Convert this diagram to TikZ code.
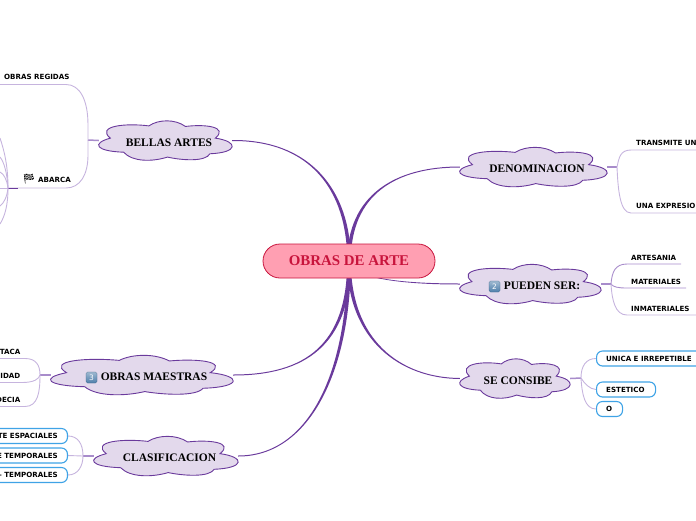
\documentclass[tikz,border=0pt]{standalone}
\usepackage{fontspec}
\setmainfont{Liberation Serif}
\setsansfont{DejaVu Sans}
\newfontfamily\emojifont{Noto Emoji}
\usetikzlibrary{calc,shapes.misc}
\pgfdeclarelayer{conn}\pgfdeclarelayer{cloudl}
\pgfsetlayers{conn,cloudl,main}
\definecolor{mainp}{HTML}{6A3A9C}
\definecolor{lightp}{HTML}{C6B4DE}
\definecolor{midp}{HTML}{A88CCB}
\definecolor{cloudf}{HTML}{E3D9EC}
\definecolor{boxb}{HTML}{3FA3E6}
\definecolor{rootf}{HTML}{FF9FB2}
\definecolor{rootb}{HTML}{C8143C}
\definecolor{keyb}{HTML}{4F7FAB}
\tikzset{
 x=1pt,y=-1pt,
 root/.style={rounded rectangle,draw=rootb,fill=rootf,line width=.8pt,minimum width=172pt,minimum height=34pt,inner sep=0pt,text=rootb,font=\bfseries\fontsize{14.9}{16}\selectfont},
 cloudtxt/.style={inner sep=0pt,font=\bfseries\fontsize{11.5}{14}\selectfont,text=black,text height=11pt,text depth=0pt},
 lbl/.style={inner sep=0pt,font=\sffamily\bfseries\fontsize{7.1}{8}\selectfont,text=black},
 bluebox/.style={rounded corners=6pt,draw=boxb,fill=white,line width=1.1pt,inner sep=0pt},
 keycap/.style={rounded corners=1.5pt,top color=keyb!55!white,bottom color=keyb,draw=keyb!80!black,line width=.3pt,text=white,font=\sffamily\fontsize{7.5}{8}\selectfont,minimum size=11pt,inner sep=0pt},
 thin/.style={draw=lightp,line width=.9pt},
 midl/.style={draw=midp,line width=.9pt},
 stub/.style={draw=midp,line width=1.5pt},
}
\newcommand{\cloudnode}[7]{% name,cx,cy,hw,hh,shift,text
 \node[cloudtxt,minimum width=2*#4pt,minimum height=2*#5pt] (#1) at (#2,#3) {\hspace*{#6pt}#7};
 \begin{pgfonlayer}{cloudl}
 \begin{scope}[shift={(#2,#3)},x=#4pt,y=-#5pt]
 \draw[draw=mainp,fill=cloudf,line width=.9pt]
  (-.83,-.12) .. controls (-1.12,.15) and (-1.05,.55) .. (-.63,.6)
  .. controls (-.5,1.1) and (-.2,1.1) .. (.03,.85)
  .. controls (.25,1.02) and (.6,1.1) .. (.67,.68)
  .. controls (1.1,.62) and (1.1,.05) .. (.75,-.12)
  .. controls (.95,-.7) and (.6,-.85) .. (.3,-.72)
  .. controls (.15,-1.1) and (-.1,-1.1) .. (-.25,-.75)
  .. controls (-.6,-.9) and (-1.05,-.75) .. (-.83,-.12) -- cycle;
 \end{scope}
 \end{pgfonlayer}}
% tapered main branch: anchor, c1, c2, side
\newcommand{\taper}[4]{%
 \fill[mainp] ($(#1)+(0,-.5)$) .. controls ($(#2)+(0,-.5)$) and ($(#3)+(#4,0)$) .. ($(root.center)+(#4,0)$)
  -- ($(root.center)+(-#4,0)$) .. controls ($(#3)+(-#4,0)$) and ($(#2)+(0,.5)$) .. ($(#1)+(0,.5)$) -- cycle;}
\begin{document}
\begin{tikzpicture}
\useasboundingbox (0,0) rectangle (696,520);
\clip (0,0) rectangle (696,520);
\node[root] (root) at (349,261) {OBRAS DE ARTE};
\cloudnode{bellas}{165.5}{140.5}{66.5}{19.5}{7}{BELLAS ARTES}
\cloudnode{denom}{533.5}{167}{73.5}{19.5}{7}{DENOMINACION}
\cloudnode{pueden}{530.5}{284}{70.5}{19.5}{23}{PUEDEN SER:}
\cloudnode{consibe}{515}{378.5}{55}{19.5}{6}{SE CONSIBE}
\cloudnode{maestras}{142}{375}{91}{19.5}{24}{OBRAS MAESTRAS}
\cloudnode{clasif}{166}{456}{72}{19.5}{7}{CLASIFICACION}
\node[keycap] (key2) at (494.5,286.5) {2};
\node[keycap] (key3) at (91.5,377.5) {3};
% labels
\node[lbl,anchor=west] (regidas) at (4,77) {OBRAS REGIDAS};
\node[lbl,anchor=west] (abarca) at (38,179.5) {ABARCA};
\node[inner sep=0pt,font=\emojifont\fontsize{10}{10}\selectfont] (flag) at (29,179) {🏁};
\node[lbl,anchor=west] (transmite) at (636,143) {TRANSMITE UN};
\node[lbl,anchor=west] (expresio) at (636,206) {UNA EXPRESIO};
\node[lbl,anchor=west] (artesania) at (631,257.5) {ARTESANIA};
\node[lbl,anchor=west] (materiales) at (631,281.5) {MATERIALES};
\node[lbl,anchor=west] (inmateriales) at (631,308.5) {INMATERIALES};
\node[lbl,anchor=east] (taca) at (20.5,351.5) {TACA};
\node[lbl,anchor=east] (idad) at (20.5,375.5) {IDAD};
\node[lbl,anchor=east] (decia) at (20.5,399.5) {DECIA};
% boxes
\node[bluebox,anchor=west,minimum width=120pt,minimum height=15pt] (unica) at (596,358.5) {};
\node[lbl,anchor=west] (unicat) at (606,358.5) {UNICA E IRREPETIBLE};
\node[bluebox,anchor=west,minimum width=59pt,minimum height=15pt] (estetico) at (596,389.5) {};
\node[lbl,anchor=west] (esteticot) at (606,389.5) {ESTETICO};
\node[bluebox,anchor=west,minimum width=26pt,minimum height=15pt] (obox) at (596,409) {};
\node[lbl,anchor=west] (ot) at (606,409) {O};
\node[bluebox,anchor=east,minimum width=100pt,minimum height=15pt] (esp) at (68,436) {};
\node[lbl,anchor=east] (espt) at (58,436) {TE ESPACIALES};
\node[bluebox,anchor=east,minimum width=100pt,minimum height=15pt] (temp) at (68,455.5) {};
\node[lbl,anchor=east] (tempt) at (58,455.5) {E TEMPORALES};
\node[bluebox,anchor=east,minimum width=100pt,minimum height=15pt] (temq) at (68,475) {};
\node[lbl,anchor=east] (temqt) at (58,475) {-- TEMPORALES};
% junctions and free ends
\coordinate (jb) at (88,140);
\coordinate (jd) at (617,167);
\coordinate (jp) at (611,284);
\coordinate (jc) at (581,378);
\coordinate (jm) at (40,375);
\coordinate (jl) at (83,456);
\coordinate (ja) at (8,188);
\begin{pgfonlayer}{conn}
\taper{bellas.east}{310,140}{349,190}{1.8}
\taper{denom.west}{395,167}{349,195}{-1.8}
\taper{pueden.west}{400,284}{352,278}{1.4}
\taper{consibe.west}{400,378}{349,340}{1.8}
\taper{maestras.east}{305,375}{349,345}{-1.8}
\taper{clasif.east}{310,456}{349,370}{-1.8}
% bellas branch
\draw[stub] (bellas.west) -- (jb);
\draw[thin] (jb) -- (88,125) .. controls (88,100) and (80,84.5) .. (66,84.5) -- (0,84.5);
\draw[thin] (jb) -- (88,155) .. controls (88,175) and (80,188) .. (66,188) -- (ja);
\draw[draw=mainp,line width=.9pt] (ja) -- (18,188);
\draw[thin] (ja) .. controls (8,165) and (4,150) .. (0,138);
\draw[thin] (ja) .. controls (7,172) and (4,162) .. (0,157);
\draw[thin] (ja) .. controls (7,180) and (4,174) .. (0,172);
\draw[thin] (ja) -- (0,188);
\draw[thin] (ja) .. controls (7,197) and (4,203) .. (0,206);
\draw[thin] (ja) .. controls (8,205) and (5,216) .. (0,224);
% denominacion branch
\draw[stub] (denom.east) -- (jd);
\draw[thin] (jd) .. controls (619,158) and (620,150) .. (631,150) -- (696,150);
\draw[thin] (jd) .. controls (618,190) and (620,213) .. (631,213) -- (696,213);
% pueden branch
\draw[stub] (pueden.east) -- (jp);
\draw[midl] (jp) .. controls (612,272) and (615,264) .. (627,264) -- (681,264);
\draw[midl] (jp) .. controls (613,287) and (618,288) .. (627,288) -- (686,288);
\draw[thin] (jp) .. controls (612,300) and (615,315) .. (627,315) -- (696,315);
% consibe branch
\draw[stub] (consibe.east) -- (jc);
\draw[thin] (jc) .. controls (581,366) and (586,358.5) .. (unica.west);
\draw[thin] (jc) .. controls (584,383) and (590,389.5) .. (estetico.west);
\draw[thin] (jc) .. controls (582,395) and (585,409) .. (obox.west);
% maestras branch
\draw[stub] (maestras.west) -- (jm);
\draw[thin] (jm) .. controls (40,365) and (36,358.5) .. (25,358.5) -- (0,358.5);
\draw[thin] (jm) .. controls (39,379) and (34,382.5) .. (22,382.5) -- (0,382.5);
\draw[thin] (jm) .. controls (40,392) and (38,406.5) .. (25,406.5) -- (0,406.5);
% clasificacion branch
\draw[stub] (clasif.west) -- (jl);
\draw[thin] (jl) .. controls (83,444) and (78,436) .. (esp.east);
\draw[thin] (jl) -- (temp.east);
\draw[thin] (jl) .. controls (83,466) and (78,475) .. (temq.east);
\end{pgfonlayer}
\end{tikzpicture}
\end{document}
